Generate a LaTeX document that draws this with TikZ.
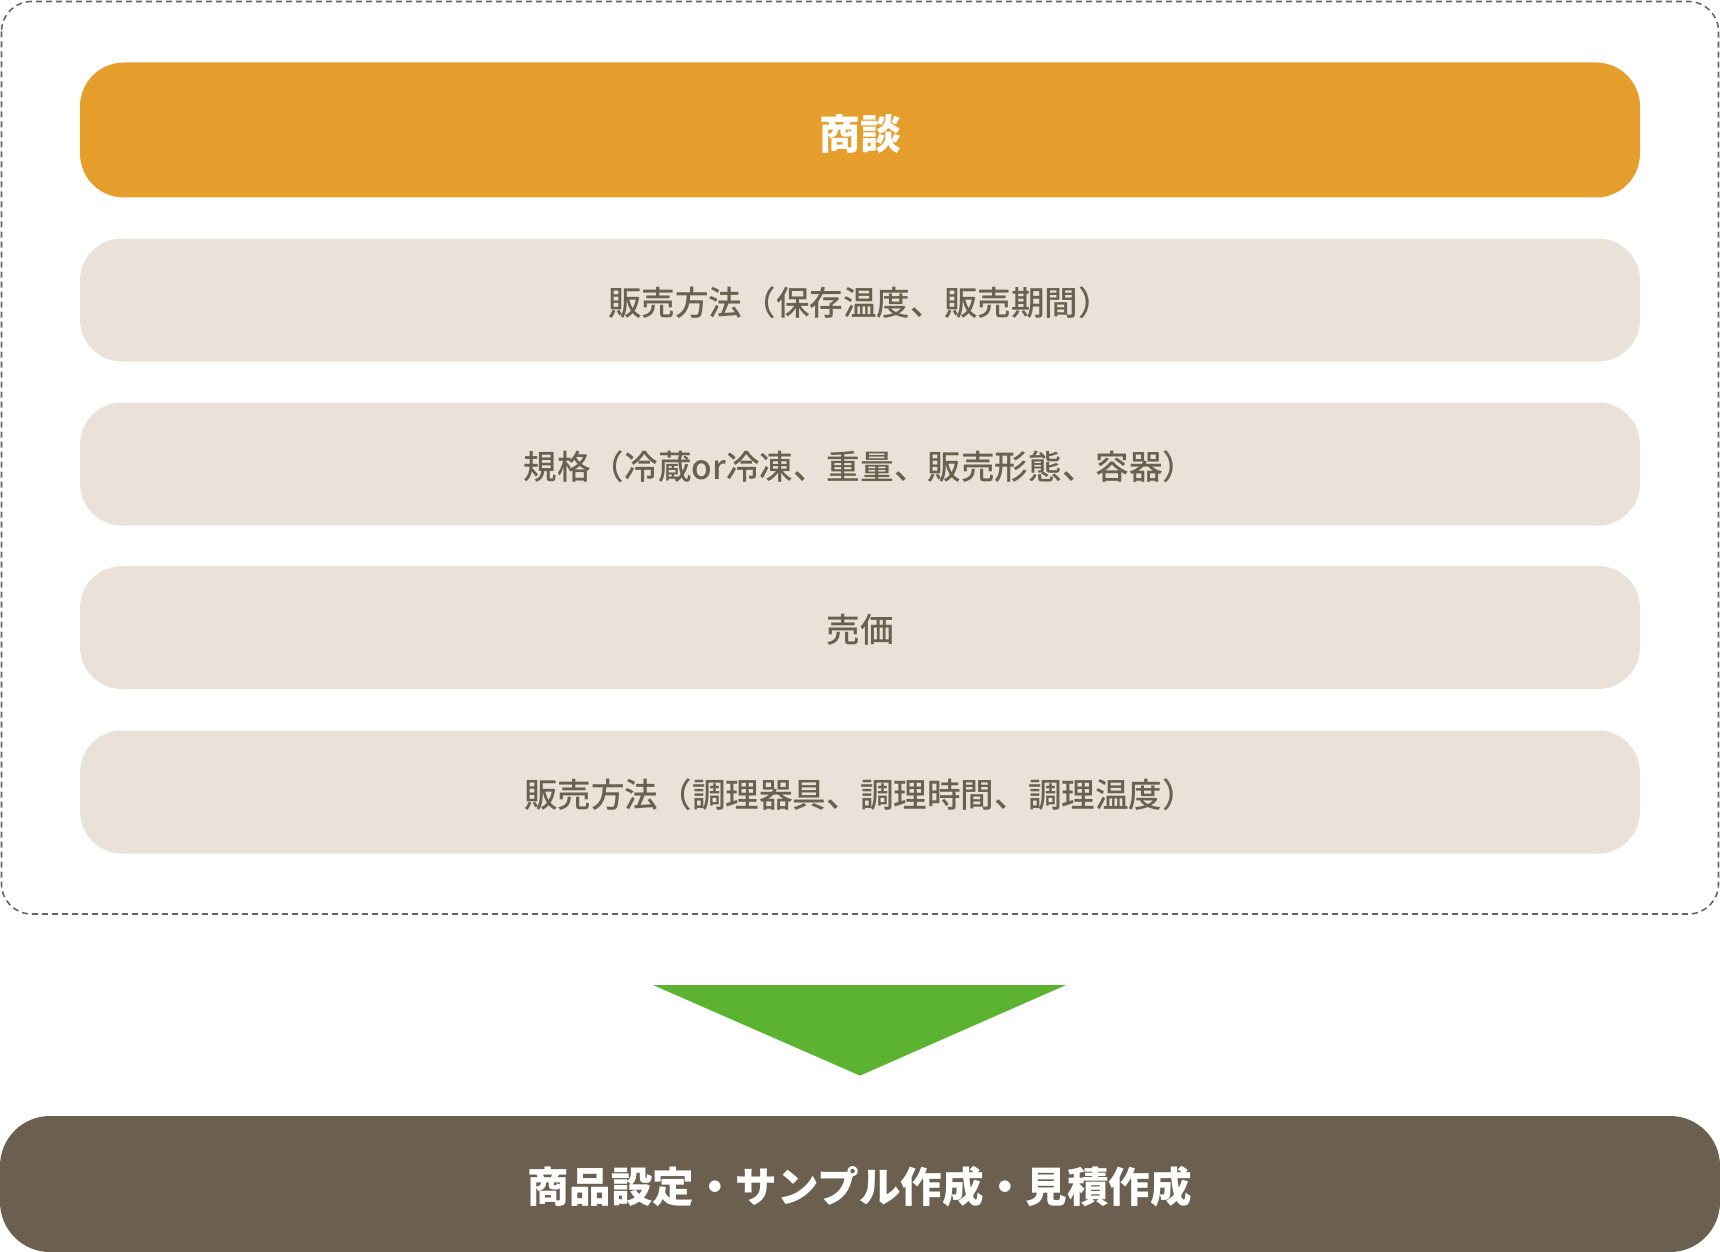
\documentclass[tikz,border=0pt]{standalone}
\usepackage{fontspec}
\newfontfamily\jpfont{Noto Sans CJK JP}
\newfontfamily\jpmedium{Noto Sans CJK JP Medium}
\definecolor{orangeton}{HTML}{E59D2C}
\definecolor{beigeton}{HTML}{EAE2D8}
\definecolor{braunton}{HTML}{6B6050}
\definecolor{gruenton}{HTML}{5BB331}
\definecolor{rahmengrau}{HTML}{666666}
\begin{document}
\begin{tikzpicture}[x=0.5pt,y=-0.5pt,
	kopf/.style={fill=orangeton,text=white,rounded corners=22pt,minimum width=780pt,minimum height=67.5pt,inner sep=0pt,text height=19.2pt,text depth=0pt,font=\jpfont\bfseries\fontsize{20.5}{24}\selectfont},
	punkt/.style={fill=beigeton,text=braunton,rounded corners=21pt,minimum width=780pt,minimum height=61.5pt,inner sep=0pt,text height=15.1pt,text depth=0pt,font=\jpmedium\fontsize{16.8}{20}\selectfont},
	ergebnis/.style={fill=braunton,text=white,rounded corners=25pt,minimum width=860pt,minimum height=68pt,inner sep=0pt,text height=18.3pt,text depth=0pt,font=\jpfont\bfseries\fontsize{20.8}{24}\selectfont}]
		
		\useasboundingbox (0,0) rectangle (1720,1252);
		
		% Rahmen
		\draw[rahmengrau,line width=0.8pt,dash pattern=on 3pt off 2pt,rounded corners=15pt] (1.5,1.5) rectangle (1718.5,914);
		
		% Kopfzeile
		\node[kopf] (shodan) at (860,130) {商談};
		
		% Punkte
		\node[punkt] (hoho) at (860,300) {販売方法（保存温度、販売期間）};
		\node[punkt] (kikaku) at (860,464) {規格（冷蔵or冷凍、重量、販売形態、容器）};
		\node[punkt] (baika) at (860,627.5) {売価};
		\node[punkt] (chori) at (860,792) {販売方法（調理器具、調理時間、調理温度）};
		
		% Ergebnis
		\node[ergebnis] (angebot) at (860,1184) {商品設定・サンプル作成・見積作成};
		
		% Pfeil
		\coordinate (pfeill) at (653,985);
		\coordinate (pfeilr) at (1066,985);
		\fill[gruenton] (pfeill) -- (pfeilr) -- ([yshift=20pt]angebot.north) -- cycle;
		
	\end{tikzpicture}
\end{document}
